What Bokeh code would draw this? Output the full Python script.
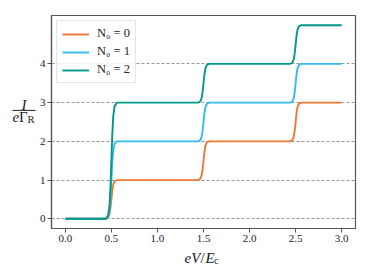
from bokeh.plotting import figure
from bokeh.layouts import row, column
from bokeh.models import Label, Arrow, FixedTicker, Range1d, NumeralTickFormatter
from bokeh.embed import file_html
from bokeh.resources import INLINE

# ---- data ----
bias = [0.0, 0.44, 0.465, 0.48, 0.49, 0.5, 0.51, 0.52, 0.535, 0.56,
        1.44, 1.465, 1.48, 1.49, 1.5, 1.51, 1.52, 1.535, 1.56,
        2.44, 2.465, 2.48, 2.49, 2.5, 2.51, 2.52, 2.535, 2.56, 3.0]
current_n0_0 = [0, 0, 0.03, 0.12, 0.27, 0.5, 0.73, 0.88, 0.97, 1,
                1, 1.03, 1.12, 1.27, 1.5, 1.73, 1.88, 1.97, 2,
                2, 2.03, 2.12, 2.27, 2.5, 2.73, 2.88, 2.97, 3, 3]
current_n0_1 = [0, 0, 0.06, 0.24, 0.54, 1.0, 1.46, 1.76, 1.94, 2,
                2, 2.03, 2.12, 2.27, 2.5, 2.73, 2.88, 2.97, 3,
                3, 3.03, 3.12, 3.27, 3.5, 3.73, 3.88, 3.97, 4, 4]
current_n0_2 = [0, 0, 0.09, 0.36, 0.81, 1.5, 2.19, 2.64, 2.91, 3,
                3, 3.03, 3.12, 3.27, 3.5, 3.73, 3.88, 3.97, 4,
                4, 4.03, 4.12, 4.27, 4.5, 4.73, 4.88, 4.97, 5, 5]
series_labels = ["N\u2080 = 0", "N\u2080 = 1", "N\u2080 = 2"]
series_colors = ["#EE7733", "#33BBEE", "#009988"]
x_ticks = [0.0, 0.5, 1.0, 1.5, 2.0, 2.5, 3.0]
y_ticks = [0, 1, 2, 3, 4]

# ---- layout ----
TOTAL_W, TOTAL_H = 374, 275
YLAB_W = 36
MAIN_W, MAIN_H = TOTAL_W - YLAB_W, 248
XLAB_H = TOTAL_H - MAIN_H
BL, BR, BT, BB = 13, 19, 15, 20
SERIF = "Liberation Serif"
INK = "#222222"


def blank(width, height):
    f = figure(width=width, height=height, x_range=Range1d(0, width), y_range=Range1d(height, 0),
               output_backend="svg", toolbar_location=None, x_axis_type=None, y_axis_type=None,
               min_border=0, outline_line_color=None)
    f.grid.visible = False
    f.background_fill_color = "white"
    f.border_fill_color = "white"
    return f


p = figure(width=MAIN_W, height=MAIN_H, x_range=Range1d(-0.15, 3.15), y_range=Range1d(-0.25, 5.25),
           output_backend="svg", toolbar_location=None,
           min_border_left=BL, min_border_right=BR, min_border_top=BT, min_border_bottom=BB)

p.background_fill_color = "white"
p.border_fill_color = "white"
p.outline_line_color = "#555555"
p.outline_line_width = 1.2

p.xgrid.visible = False
p.ygrid.ticker = FixedTicker(ticks=y_ticks)
p.ygrid.grid_line_color = "#8a8a8a"
p.ygrid.grid_line_dash = "3 2"
p.ygrid.grid_line_width = 0.9

p.xaxis.ticker = FixedTicker(ticks=x_ticks)
p.yaxis.ticker = FixedTicker(ticks=y_ticks)
p.xaxis.formatter = NumeralTickFormatter(format="0.0")
p.yaxis.formatter = NumeralTickFormatter(format="0")
for ax in (p.xaxis, p.yaxis):
    ax.axis_line_color = "#555555"
    ax.axis_line_width = 1.2
    ax.major_tick_line_color = "#555555"
    ax.major_tick_out = 4
    ax.major_tick_in = 0
    ax.minor_tick_line_color = None
    ax.major_label_text_font = SERIF
    ax.major_label_text_font_size = "11px"
    ax.major_label_text_color = INK
p.xaxis.major_label_standoff = 2
p.yaxis.major_label_standoff = 2

for ys, lbl, col in zip([current_n0_0, current_n0_1, current_n0_2], series_labels, series_colors):
    p.line(bias, ys, line_color=col, line_width=1.9, legend_label=lbl)

lg = p.legend[0]
lg.location = "top_left"
lg.margin = 5
lg.padding = 5
lg.spacing = 3
lg.glyph_width = 27
lg.glyph_height = 14
lg.label_height = 14
lg.label_standoff = 8
lg.label_text_font = SERIF
lg.label_text_font_size = "12.5px"
lg.label_text_color = INK
lg.border_line_color = "#cccccc"
lg.border_line_width = 1
lg.background_fill_alpha = 0.85

# ---- y label panel: I / (e Gamma_R) ----
ylab = blank(YLAB_W, MAIN_H)
ylab.add_layout(Label(x=23.5, y=104, text="I", text_font=SERIF, text_font_style="italic",
                      text_font_size="15px", text_align="center", text_baseline="middle",
                      text_color=INK))
ylab.add_layout(Arrow(end=None, x_start=12, y_start=110.5, x_end=35, y_end=110.5,
                      line_color=INK, line_width=1))
ylab.add_layout(Label(x=12, y=118, text="e", text_font=SERIF, text_font_style="italic",
                      text_font_size="15px", text_align="left", text_baseline="middle",
                      text_color=INK))
ylab.add_layout(Label(x=18.5, y=118, text="\u0393", text_font=SERIF,
                      text_font_size="15px", text_align="left", text_baseline="middle",
                      text_color=INK))
ylab.add_layout(Label(x=27, y=121, text="R", text_font=SERIF,
                      text_font_size="10.5px", text_align="left", text_baseline="middle",
                      text_color=INK))

# ---- x label panel: eV / E_c ----
xlab = blank(TOTAL_W, XLAB_H)
xy = 257 - MAIN_H
xlab.add_layout(Label(x=184, y=xy, text="eV", text_font=SERIF, text_font_style="italic",
                      text_font_size="15px", text_align="left", text_baseline="middle",
                      text_color=INK))
xlab.add_layout(Label(x=200, y=xy, text="/", text_font=SERIF,
                      text_font_size="15px", text_align="left", text_baseline="middle",
                      text_color=INK))
xlab.add_layout(Label(x=205, y=xy, text="E", text_font=SERIF, text_font_style="italic",
                      text_font_size="15px", text_align="left", text_baseline="middle",
                      text_color=INK))
xlab.add_layout(Label(x=213.5, y=xy + 3, text="c", text_font=SERIF,
                      text_font_size="10.5px", text_align="left", text_baseline="middle",
                      text_color=INK))

layout = column(row(ylab, p, spacing=0), xlab, spacing=0)
open("out.html", "w").write(file_html(layout, INLINE))
